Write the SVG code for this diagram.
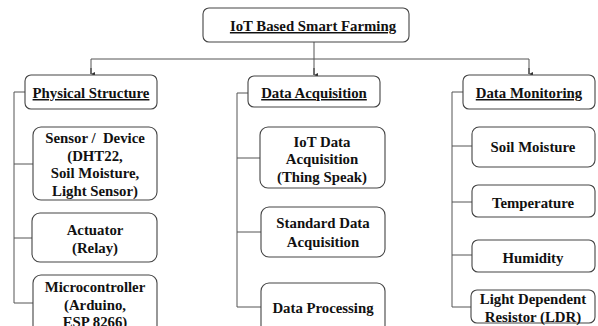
<svg xmlns="http://www.w3.org/2000/svg" width="598" height="326" viewBox="0 0 598 326">
<style>
.box{fill:#fff;stroke:#444;stroke-width:1.1}
.t{font-family:"Liberation Serif","Times New Roman",serif;font-weight:bold;font-size:14.8px;fill:#111;text-anchor:middle}
.u{text-decoration:underline}
.c{fill:none;stroke:#555;stroke-width:1}
</style>
<defs>
<marker id="ah" viewBox="0 0 6 6" refX="3" refY="6" markerWidth="4" markerHeight="4" orient="auto-start-reverse" markerUnits="userSpaceOnUse">
<path d="M0,0 L6,0 L3,6 Z" fill="#333"/>
</marker>
</defs>
<rect width="598" height="326" fill="#fff"/>
<g id="connectors">
<line class="c" x1="314" y1="42" x2="314" y2="75" stroke="#333"/>
<path class="c" d="M91,74 V59 H529 V74" stroke="#333"/>
<line x1="91" y1="68" x2="91" y2="74" stroke="#333" marker-end="url(#ah)"/>
<line x1="314" y1="68" x2="314" y2="75" stroke="#333" marker-end="url(#ah)"/>
<line x1="529" y1="68" x2="529" y2="74" stroke="#333" marker-end="url(#ah)"/>
<path class="c" d="M25,92 H14 V303 H33 M14,164 H33 M14,238 H32"/>
<path class="c" d="M248,93 H237 V307 H261 M237,158 H260 M237,232 H261"/>
<path class="c" d="M463,92 H452 V307 H471 M452,146 H472 M452,202 H472 M452,255 H472"/>
</g>
<g id="root">
<rect class="box" x="203" y="8" width="206" height="34" rx="6"/>
<text class="t u" x="313" y="31">IoT Based Smart Farming</text>
</g>
<g id="physical">
<rect class="box" x="25" y="75" width="132" height="34" rx="6"/>
<text class="t u" x="91" y="98">Physical Structure</text>
</g>
<g id="sensor">
<rect class="box" x="33" y="127" width="124" height="73" rx="8"/>
<text class="t" x="95" y="143" xml:space="preserve">Sensor /  Device</text>
<text class="t" x="95" y="161">(DHT22,</text>
<text class="t" x="95" y="178">Soil Moisture,</text>
<text class="t" x="95" y="196">Light Sensor)</text>
</g>
<g id="actuator">
<rect class="box" x="32" y="213" width="125" height="49" rx="8"/>
<text class="t" x="95" y="235">Actuator</text>
<text class="t" x="95" y="253">(Relay)</text>
</g>
<g id="micro">
<rect class="box" x="33" y="275" width="124" height="70" rx="8"/>
<text class="t" x="95" y="292">Microcontroller</text>
<text class="t" x="95" y="310">(Arduino,</text>
<text class="t" x="95" y="327">ESP 8266)</text>
</g>
<g id="acq">
<rect class="box" x="248" y="76" width="132" height="31" rx="6"/>
<text class="t u" x="314" y="98">Data Acquisition</text>
</g>
<g id="iotacq">
<rect class="box" x="260" y="127" width="125" height="61" rx="8"/>
<text class="t" x="322" y="147">IoT Data</text>
<text class="t" x="322" y="164">Acquisition</text>
<text class="t" x="322" y="182">(Thing Speak)</text>
</g>
<g id="stdacq">
<rect class="box" x="261" y="207" width="124" height="50" rx="8"/>
<text class="t" x="323" y="228">Standard Data</text>
<text class="t" x="323" y="247">Acquisition</text>
</g>
<g id="proc">
<rect class="box" x="261" y="283" width="124" height="60" rx="8"/>
<text class="t" x="323" y="313">Data Processing</text>
</g>
<g id="monitor">
<rect class="box" x="463" y="75" width="132" height="34" rx="6"/>
<text class="t u" x="529" y="98">Data Monitoring</text>
</g>
<g id="soil">
<rect class="box" x="472" y="127" width="123" height="40" rx="7"/>
<text class="t" x="533" y="152">Soil Moisture</text>
</g>
<g id="temp">
<rect class="box" x="472" y="185" width="123" height="32" rx="6"/>
<text class="t" x="533" y="208">Temperature</text>
</g>
<g id="hum">
<rect class="box" x="472" y="240" width="123" height="32" rx="6"/>
<text class="t" x="533" y="263">Humidity</text>
</g>
<g id="ldr">
<rect class="box" x="471" y="290" width="124" height="33" rx="6"/>
<text class="t" x="533" y="304">Light Dependent</text>
<text class="t" x="533" y="322">Resistor (LDR)</text>
</g>
</svg>
